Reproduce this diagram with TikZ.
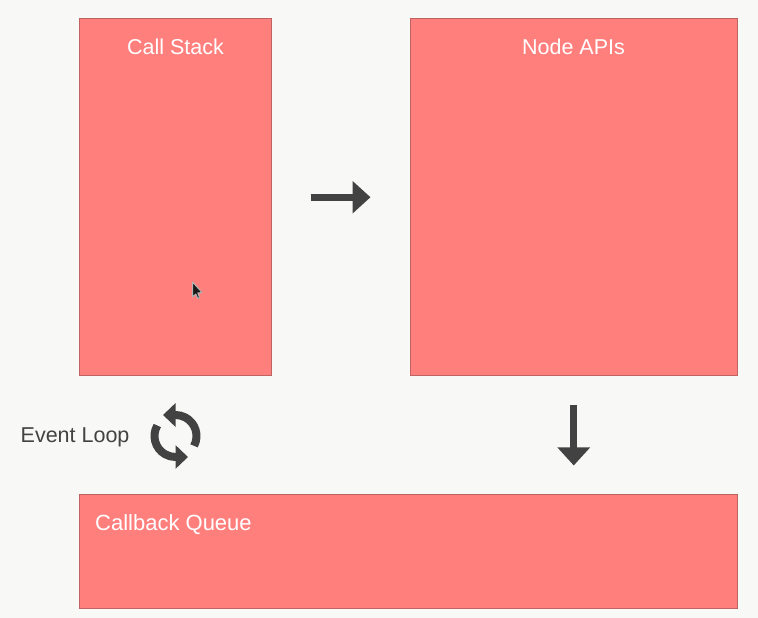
\documentclass[tikz,border=0pt]{standalone}
\usepackage{fontspec}
\setmainfont{Liberation Sans}
\usetikzlibrary{arrows.meta}
\definecolor{pagecol}{RGB}{248,248,246}
\definecolor{boxcol}{RGB}{255,127,125}
\definecolor{boxline}{RGB}{190,98,98}
\definecolor{darkcol}{RGB}{66,66,66}
\tikzset{
  box/.style={draw=boxline,fill=boxcol,line width=1bp,inner sep=0pt},
  boxtitle/.style={text=white,inner sep=0pt,font=\fontsize{21.5bp}{24bp}\selectfont},
  bigarrow/.style={draw=darkcol,line width=7bp,-{Triangle[length=18bp,width=31.5bp]}},
  looparrow/.style={draw=darkcol,line width=8bp,-{Triangle[length=12.5bp,width=23bp]}},
}
\begin{document}
\begin{tikzpicture}[x=1bp,y=1bp]
  \useasboundingbox[fill=pagecol] (0,0) rectangle (758,618);
  % Boxes
  \node[box,minimum width=192bp,minimum height=357.5bp] (stack) at (175.5,420.75) {};
  \node[box,minimum width=326.5bp,minimum height=357.5bp] (apis) at (573.75,420.75) {};
  \node[box,minimum width=657.5bp,minimum height=113.5bp] (queue) at (408.25,66.25) {};
  % Titles
  \node[boxtitle] (stacktitle) at (175.5,571) {Call Stack};
  \node[boxtitle] (apistitle) at (573.5,571) {Node APIs};
  \node[boxtitle,anchor=west,font=\fontsize{22bp}{24bp}\selectfont] (queuetitle) at (95,93.5) {Callback Queue};
  \node[boxtitle,text=darkcol,anchor=west] (looptitle) at (20.5,180.5) {Event Loop};
  % Arrows
  \draw[bigarrow,shorten <=38.5bp,shorten >=39.5bp] (stack) -- (apis);
  \draw[bigarrow,shorten <=29bp,shorten >=29bp] (apis.south) -- (apis.south |- queue.north);
  % Event loop
  \coordinate (loop) at (175.5,182);
  \draw[looparrow] ([shift={(-28:21bp)}]loop) arc (-28:90:21bp) -- ++(-12.5,0);
  \draw[looparrow] ([shift={(150:21bp)}]loop) arc (150:270:21bp) -- ++(12.5,0);
  % Cursor
  \draw[draw=black!30,fill=black!90,line width=1bp,line join=round] (192.5,336) -- (192.5,321) -- (195.8,324) -- (197.8,319.5) -- (199.6,320.4) -- (197.8,325) -- (202,325.5) -- cycle;
\end{tikzpicture}
\end{document}
